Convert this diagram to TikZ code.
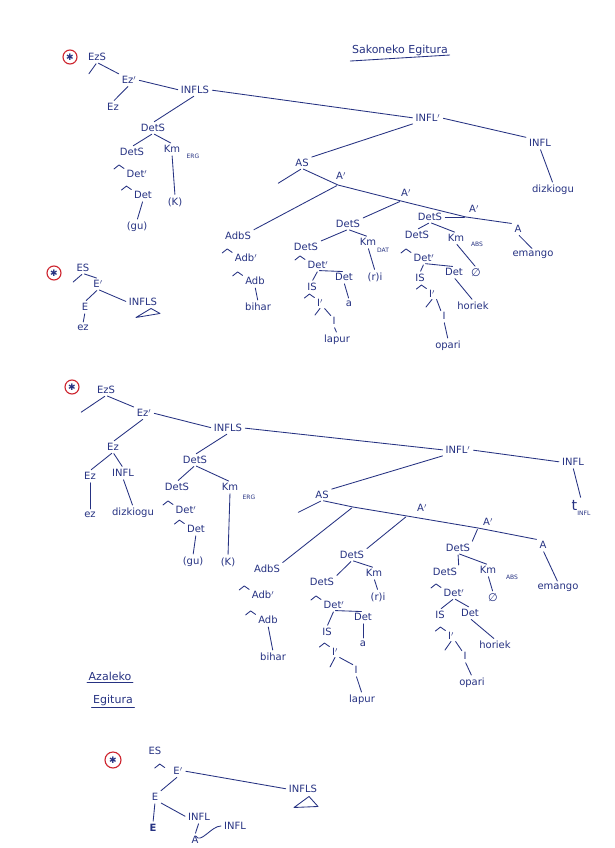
\documentclass[tikz,border=0pt]{standalone}
\usepackage{amsmath,amssymb}
\usepackage{fontspec}
\setmainfont{DejaVu Sans}
\usetikzlibrary{calc}
\definecolor{ink}{RGB}{38,50,130}
\definecolor{redink}{RGB}{205,35,45}
\tikzset{
  lab/.style={font=\fontsize{10}{11}\selectfont, text=ink, inner sep=1.5pt},
  sub/.style={font=\fontsize{6}{7}\selectfont, text=ink, inner sep=0.5pt},
  br/.style={draw=ink, line width=0.85pt, shorten <=1.5pt, shorten >=1.5pt},
  tick/.style={draw=ink, line width=0.85pt},
  redstar/.style={circle, draw=redink, line width=1.1pt, text=ink, inner sep=0pt, minimum size=14pt, font=\fontsize{9}{9}\selectfont},
  hat/.pic={\draw[ink, line width=0.85pt] (-11pt,-0.5pt) -- (-6pt,3.5pt) -- (-1pt,0pt);}
}
\begin{document}
\begin{tikzpicture}[x=1pt, y=-1pt, line join=round, line cap=round]
\useasboundingbox[fill=white] (0,0) rectangle (614,848);
% ---------------- Sakoneko Egitura
\node[lab, font=\fontsize{11}{13}\selectfont] (aTitle) at (400,50) {Sakoneko Egitura};
\draw[ink, line width=0.85pt] ($(aTitle.south west)+(0,4)$) -- ($(aTitle.south east)+(0,-2)$);
\node[redstar] (aM) at (70,57) {✱};
\node[lab] (aEzS) at (97,57) {EzS};
\node[lab] (aEzb) at (129,80) {Ez$'$};
\node[lab] (aEz) at (113,107) {Ez};
\node[lab] (aINFLS) at (195,90) {INFLS};
\node[lab] (aDetS) at (153,128) {DetS};
\node[lab] (aDetSl) at (132,152) {DetS};
\node[lab] (aKm) at (172,149) {Km};
\node[sub] (aErg) at (193,156) {ERG};
\node[lab] (aK) at (175,202) {(K)};
\node[lab] (aDetb) at (137,174) {Det$'$};
\node[lab] (aDet) at (143,195) {Det};
\node[lab] (aGu) at (137,227) {(gu)};
\node[lab] (aINFLb) at (428,118) {INFL$'$};
\node[lab] (aINFL) at (540,143) {INFL};
\node[lab] (aDizk) at (553,190) {dizkiogu};
\node[lab] (aAS) at (302,163) {AS};
\node[lab] (aAb1) at (341,176) {A$'$};
\node[lab] (aAb2) at (406,193) {A$'$};
\node[lab] (aAb3) at (474,209) {A$'$};
\node[lab] (aA) at (518,229) {A};
\node[lab] (aEmango) at (533,255) {emango};
\coordinate (aEzSl) at (88,75);
\coordinate (aASl) at (277,184);
\coordinate (aJ1) at (338,185);
\coordinate (aJ2) at (401,201);
\coordinate (aJ3) at (466,217);
\node[lab] (aAdbS) at (238,236) {AdbS};
\node[lab] (aAdbb) at (246,258) {Adb$'$};
\node[lab] (aAdb) at (255,281) {Adb};
\node[lab] (aBihar) at (258,307) {bihar};
\node[lab] (aDetS3) at (348,224) {DetS};
\node[lab] (aDetS4) at (306,247) {DetS};
\node[lab] (aKm2) at (368,242) {Km};
\node[sub] (aDat) at (383,250) {DAT};
\node[lab] (aRi) at (375,277) {(r)i};
\node[lab] (aDetb2) at (318,265) {Det$'$};
\node[lab] (aIS) at (312,287) {IS};
\node[lab] (aDet2) at (344,277) {Det};
\node[lab] (aA2) at (349,304) {a};
\node[lab] (aIb) at (320,303) {I$'$};
\coordinate (aIbl) at (315,315);
\node[lab] (aI) at (334,321) {I};
\node[lab] (aLapur) at (337,340) {lapur};
\node[lab] (aDetS5) at (430,217) {DetS};
\node[lab] (aDetS6) at (417,235) {DetS};
\node[lab] (aKm3) at (456,238) {Km};
\node[sub] (aAbs) at (477,244) {ABS};
\node[lab, font=\fontsize{11}{12}\selectfont] (aEmpty) at (476,273) {∅};
\node[lab] (aDetb3) at (424,258) {Det$'$};
\node[lab] (aIS2) at (420,278) {IS};
\node[lab] (aDet3) at (454,272) {Det};
\node[lab] (aHoriek) at (473,306) {horiek};
\node[lab] (aIb2) at (432,294) {I$'$};
\coordinate (aIbl2) at (426,307);
\node[lab] (aI2) at (444,316) {I};
\node[lab] (aOpari) at (448,346) {opari};
% branches
\draw[br] (aEzS.south) -- (aEzSl);
\draw[br] (aEzS.south) -- (aEzb.north west);
\draw[br] (aEzb.south) -- (aEz.north);
\draw[br] (aEzb.east) -- (aINFLS.west);
\draw[br] (aINFLS.south) -- (aDetS.north);
\draw[br] (aDetS.south) -- (aDetSl.north);
\draw[br] (aDetS.south) -- (aKm.north);
\pic at (aDetb.north west) {hat};
\pic at (aDet.north west) {hat};
\draw[br] (aDet.south) -- (aGu.north);
\draw[br] (aKm.south) -- (aK.north);
\draw[br] (aINFLS.east) -- (aINFLb.west);
\draw[br] (aINFLb.east) -- (aINFL.north west);
\draw[br] (aINFL.south) -- (aDizk.north);
\draw[br] (aINFLb.south west) -- (aAS.north east);
\draw[br] (aAS.south) -- (aASl);
\draw[br] (aAS.south) -- (aJ1) -- (aJ2) -- (aJ3) -- (aA.north west);
\draw[br] (aA.south) -- (aEmango.north);
\draw[br] (aJ1) -- (aAdbS.north east);
\draw[br] (aJ2) -- (aDetS3.north east);
\draw[br] (aJ3) -- (aDetS5.east);
\pic at (aAdbb.north west) {hat};
\pic at (aAdb.north west) {hat};
\draw[br] (aAdb.south) -- (aBihar.north);
\draw[br] (aDetS3.south) -- (aDetS4.north east);
\draw[br] (aDetS3.south) -- (aKm2.north);
\draw[br] (aKm2.south) -- (aRi.north);
\pic at (aDetb2.north west) {hat};
\draw[br] (aDetb2.south) -- (aIS.north);
\draw[br] (aDetb2.south) -- (aDet2.north);
\draw[br] (aDet2.south) -- (aA2.north);
\pic at (aIb.north west) {hat};
\draw[tick] (aIb.south) -- (aIbl);
\draw[tick] (aIb.south east) -- (aI.north west);
\draw[br] (aI.south) -- (aLapur.north);
\draw[br] (aDetS5.south) -- (aDetS6.north);
\draw[br] (aDetS5.south) -- (aKm3.north);
\draw[br] (aKm3.south) -- (aEmpty.north);
\pic at (aDetb3.north west) {hat};
\draw[br] (aDetb3.south) -- (aIS2.north);
\draw[br] (aDetb3.south) -- (aDet3.north);
\draw[br] (aDet3.south) -- (aHoriek.north);
\pic at (aIb2.north west) {hat};
\draw[tick] (aIb2.south) -- (aIbl2);
\draw[tick] (aIb2.south east) -- (aI2.north west);
\draw[br] (aI2.south) -- (aOpari.north);
% ---------------- small tree ES
\node[redstar] (bM) at (54,273) {✱};
\node[lab] (bES) at (83,268) {ES};
\node[lab] (bEb) at (98,284) {E$'$};
\node[lab] (bE) at (85,307) {E};
\node[lab] (bINFLS) at (143,302) {INFLS};
\node[lab] (bEz) at (83,328) {ez};
\coordinate (bESl) at (72,283);
\draw[br] (bES.south) -- (bESl);
\draw[br] (bES.south) -- (bEb.north);
\draw[br] (bEb.south) -- (bE.north);
\draw[br] (bEb.south) -- (bINFLS.west);
\draw[br] (bE.south) -- (bEz.north);
\draw[ink, line width=0.85pt] ($(bINFLS.south)+(8,1)$) -- ($(bINFLS.south)+(-7,10)$) -- ($(bINFLS.south)+(17,6)$) -- cycle;
% ---------------- Azaleko Egitura
\node[redstar] (cM) at (72,387) {✱};
\node[lab] (cEzS) at (106,390) {EzS};
\node[lab] (cEzb) at (144,413) {Ez$'$};
\node[lab] (cINFLS) at (228,428) {INFLS};
\node[lab] (cEz) at (113,447) {Ez};
\node[lab] (cEz2) at (90,476) {Ez};
\node[lab] (cINFL) at (123,473) {INFL};
\node[lab] (cEzw) at (90,515) {ez};
\node[lab] (cDizk) at (133,513) {dizkiogu};
\node[lab] (cDetS) at (195,460) {DetS};
\node[lab] (cDetSl) at (177,487) {DetS};
\node[lab] (cKm) at (230,487) {Km};
\node[sub] (cErg) at (249,497) {ERG};
\node[lab] (cK) at (228,562) {(K)};
\node[lab] (cDetb) at (186,510) {Det$'$};
\node[lab] (cDet) at (196,529) {Det};
\node[lab] (cGu) at (193,562) {(gu)};
\node[lab] (cINFLb) at (458,450) {INFL$'$};
\node[lab] (cINFL2) at (573,462) {INFL};
\node[lab] (cT) at (581,508) {\Large t\raisebox{-5pt}{\fontsize{6}{7}\selectfont INFL}};
\node[lab] (cAS) at (322,495) {AS};
\node[lab] (cAb1) at (422,508) {A$'$};
\node[lab] (cAb2) at (488,522) {A$'$};
\node[lab] (cA) at (543,545) {A};
\node[lab] (cEmango) at (558,588) {emango};
\coordinate (cEzSl) at (80,413);
\coordinate (cASl) at (297,513);
\coordinate (cJ1) at (353,507);
\coordinate (cJ2) at (407,516);
\coordinate (cJ3) at (478,528);
\node[lab] (cAdbS) at (267,569) {AdbS};
\node[lab] (cAdbb) at (263,595) {Adb$'$};
\node[lab] (cAdb) at (268,620) {Adb};
\node[lab] (cBihar) at (273,657) {bihar};
\node[lab] (cDetS2) at (352,555) {DetS};
\node[lab] (cDetS3) at (322,582) {DetS};
\node[lab] (cKm2) at (374,573) {Km};
\node[lab] (cRi) at (378,597) {(r)i};
\node[lab] (cDetb2) at (334,605) {Det$'$};
\node[lab] (cIS) at (327,632) {IS};
\node[lab] (cDet2) at (363,617) {Det};
\node[lab] (cA2) at (363,644) {a};
\node[lab] (cIb) at (335,652) {I$'$};
\coordinate (cIbl) at (330,667);
\node[lab] (cI) at (356,670) {I};
\node[lab] (cLapur) at (362,700) {lapur};
\node[lab] (cDetS4) at (458,548) {DetS};
\node[lab] (cDetS5) at (445,572) {DetS};
\node[lab] (cKm3) at (488,570) {Km};
\node[sub] (cAbs) at (512,577) {ABS};
\node[lab, font=\fontsize{11}{12}\selectfont] (cEmpty) at (493,598) {∅};
\node[lab] (cDetb3) at (454,593) {Det$'$};
\node[lab] (cIS2) at (440,615) {IS};
\node[lab] (cDet3) at (470,613) {Det};
\node[lab] (cHoriek) at (495,645) {horiek};
\node[lab] (cIb2) at (451,636) {I$'$};
\coordinate (cIbl2) at (445,650);
\node[lab] (cI2) at (465,656) {I};
\node[lab] (cOpari) at (472,683) {opari};
% branches
\draw[br] (cEzS.south) -- (cEzSl);
\draw[br] (cEzS.south) -- (cEzb.north west);
\draw[br] (cEzb.south) -- (cEz.north);
\draw[br] (cEzb.east) -- (cINFLS.west);
\draw[br] (cEz.south) -- (cEz2.north);
\draw[br] (cEz.south) -- (cINFL.north);
\draw[br] (cEz2.south) -- (cEzw.north);
\draw[br] (cINFL.south) -- (cDizk.north);
\draw[br] (cINFLS.south) -- (cDetS.north);
\draw[br] (cDetS.south) -- (cDetSl.north);
\draw[br] (cDetS.south) -- (cKm.north);
\draw[br] (cKm.south) -- (cK.north);
\pic at (cDetb.north west) {hat};
\pic at (cDet.north west) {hat};
\draw[br] (cDet.south) -- (cGu.north);
\draw[br] (cINFLS.east) -- (cINFLb.west);
\draw[br] (cINFLb.east) -- (cINFL2.west);
\draw[br] (cINFL2.south) -- (cT.north);
\draw[br] (cINFLb.south west) -- (cAS.north east);
\draw[br] (cAS.south) -- (cASl);
\draw[br] (cAS.south) -- (cJ1) -- (cJ2) -- (cJ3) -- (cA.north west);
\draw[br] (cA.south) -- (cEmango.north);
\draw[br] (cJ1) -- (cAdbS.north east);
\draw[br] (cJ2) -- (cDetS2.north east);
\draw[br] (cJ3) -- (cDetS4.north east);
\pic at (cAdbb.north west) {hat};
\pic at (cAdb.north west) {hat};
\draw[br] (cAdb.south) -- (cBihar.north);
\draw[br] (cDetS2.south) -- (cDetS3.north east);
\draw[br] (cDetS2.south) -- (cKm2.north);
\draw[br] (cKm2.south) -- (cRi.north);
\pic at (cDetb2.north west) {hat};
\draw[br] (cDetb2.south) -- (cIS.north);
\draw[br] (cDetb2.south) -- (cDet2.north);
\draw[br] (cDet2.south) -- (cA2.north);
\pic at (cIb.north west) {hat};
\draw[tick] (cIb.south) -- (cIbl);
\draw[tick] (cIb.south east) -- (cI.north west);
\draw[br] (cI.south) -- (cLapur.north);
\draw[br] (cDetS4.south) -- (cDetS5.north east);
\draw[br] (cDetS4.south) -- (cKm3.north);
\draw[br] (cKm3.south) -- (cEmpty.north);
\pic at (cDetb3.north west) {hat};
\draw[br] (cDetb3.south) -- (cIS2.north);
\draw[br] (cDetb3.south) -- (cDet3.north);
\draw[br] (cDet3.south) -- (cHoriek.north);
\pic at (cIb2.north west) {hat};
\draw[tick] (cIb2.south) -- (cIbl2);
\draw[tick] (cIb2.south east) -- (cI2.north west);
\draw[br] (cI2.south) -- (cOpari.north);
\node[lab, font=\fontsize{11}{13}\selectfont] (cTitle1) at (110,676) {Azaleko};
\node[lab, font=\fontsize{11}{13}\selectfont] (cTitle2) at (113,700) {Egitura};
\draw[ink, line width=0.85pt] (cTitle1.south west) -- (cTitle1.south east);
\draw[ink, line width=0.85pt] (cTitle2.south west) -- (cTitle2.south east);
% ---------------- bottom tree ES
\node[redstar, minimum size=16pt] (dM) at (113,760) {✱};
\node[lab] (dES) at (155,751) {ES};
\node[lab] (dEb) at (178,771) {E$'$};
\node[lab] (dE) at (155,797) {E};
\node[lab] (dINFLS) at (303,789) {INFLS};
\node[lab] (dEbold) at (153,828) {\textbf{E}};
\node[lab] (dINFL) at (199,817) {INFL};
\node[lab] (dINFL2) at (235,826) {INFL};
\node[lab] (dA) at (195,840) {A};
\pic at ($(dEb.north west)+(-6,2)$) {hat};
\draw[br] (dEb.south) -- (dE.north east);
\draw[br] (dEb.east) -- (dINFLS.west);
\draw[br] (dE.south) -- (dEbold.north);
\draw[br] (dE.south east) -- (dINFL.west);
\draw[br] (dINFL.south) -- (dA.north);
\draw[br] (dA.north) to[out=-60,in=180] (dINFL2.west);
\draw[ink, line width=0.85pt] ($(dINFLS.south)+(6,2)$) -- ($(dINFLS.south)+(-9,13)$) -- ($(dINFLS.south)+(15,12)$) -- cycle;
\end{tikzpicture}
\end{document}
